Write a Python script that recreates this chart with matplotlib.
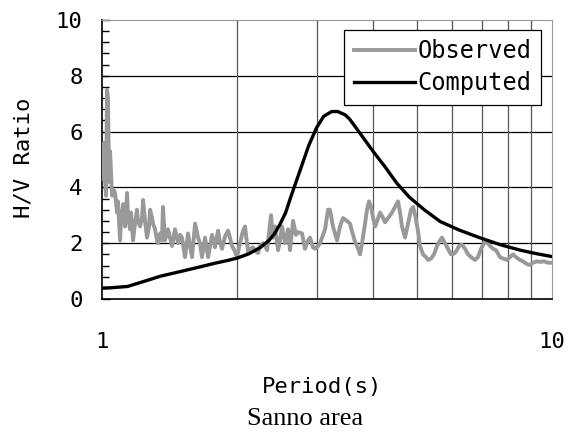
import matplotlib
matplotlib.use('Agg')
import matplotlib.pyplot as plt
from matplotlib.ticker import FixedLocator, NullFormatter

# observed H/V spectrum
obs_period = [1.000, 1.005, 1.010, 1.016, 1.021, 1.026, 1.031, 1.037, 1.042, 1.047,
              1.053, 1.063, 1.069, 1.080, 1.085, 1.097, 1.102, 1.114, 1.125, 1.137,
              1.142, 1.154, 1.160, 1.172, 1.184, 1.196, 1.202, 1.215, 1.227, 1.234,
              1.246, 1.259, 1.272, 1.279, 1.292, 1.298, 1.312, 1.325, 1.332, 1.346,
              1.359, 1.366, 1.380, 1.402, 1.416, 1.431, 1.453, 1.476, 1.491, 1.506,
              1.529, 1.553, 1.569, 1.585, 1.610, 1.635, 1.651, 1.668, 1.694, 1.721,
              1.738, 1.756, 1.783, 1.811, 1.830, 1.848, 1.877, 1.906, 1.925, 1.945,
              1.975, 1.995, 2.026, 2.058, 2.079, 2.100, 2.111, 2.133, 2.166, 2.200,
              2.222, 2.245, 2.280, 2.304, 2.327, 2.363, 2.375, 2.399, 2.424, 2.462,
              2.487, 2.512, 2.551, 2.591, 2.617, 2.658, 2.698, 2.726, 2.783, 2.826,
              2.870, 2.899, 2.944, 2.974, 3.021, 3.052, 3.099, 3.131, 3.178, 3.210,
              3.260, 3.329, 3.380, 3.432, 3.503, 3.557, 3.612, 3.650, 3.707, 3.745,
              3.783, 3.842, 3.880, 3.921, 3.962, 4.004, 4.046, 4.109, 4.150, 4.214,
              4.256, 4.322, 4.411, 4.479, 4.549, 4.595, 4.642, 4.714, 4.786, 4.861,
              4.914, 4.965, 5.042, 5.090, 5.168, 5.248, 5.302, 5.384, 5.467, 5.552,
              5.638, 5.695, 5.782, 5.872, 5.963, 6.026, 6.119, 6.214, 6.310, 6.408,
              6.507, 6.607, 6.744, 6.848, 6.954, 7.062, 7.171, 7.282, 7.395, 7.509,
              7.664, 7.783, 7.943, 8.066, 8.190, 8.318, 8.490, 8.621, 8.799, 8.935,
              9.073, 9.261, 9.405, 9.599, 9.797, 10.000]
obs_ratio = [5.0, 4.3, 5.6, 4.3, 3.7, 7.5, 7.2, 4.2, 5.3, 4.6,
             3.7, 3.9, 3.8, 3.1, 3.5, 2.1, 2.8, 3.4, 2.6, 3.8,
             3.0, 2.5, 3.1, 2.1, 2.7, 3.2, 2.8, 2.6, 2.9, 3.55,
             2.8, 2.2, 2.6, 3.2, 2.9, 2.7, 2.5, 2.1, 2.0, 2.35,
             2.1, 3.3, 2.1, 2.5, 2.2, 1.9, 2.5, 2.0, 2.3, 2.2,
             1.5, 2.35, 1.9, 1.5, 2.7, 2.2, 2.0, 1.5, 2.2, 1.5,
             1.9, 2.3, 1.85, 2.45, 2.0, 1.8, 2.25, 2.45, 2.2, 1.9,
             1.7, 1.5, 2.0, 2.45, 2.6, 2.0, 1.7, 1.8, 1.85, 1.7,
             1.65, 1.9, 2.0, 1.9, 1.75, 2.7, 3.0, 2.2, 2.6, 1.75,
             2.1, 2.6, 2.0, 2.5, 1.75, 2.8, 2.3, 2.4, 2.35, 1.8,
             2.1, 2.2, 1.85, 1.8, 1.9, 2.0, 2.3, 2.5, 3.2, 3.2,
             2.6, 2.1, 2.6, 2.9, 2.8, 2.7, 2.3, 2.05, 1.8, 1.6,
             2.0, 2.7, 3.2, 3.5, 3.3, 2.9, 2.6, 2.9, 3.1, 2.9,
             2.75, 2.9, 3.1, 3.3, 3.5, 3.1, 2.6, 2.2, 2.7, 3.2,
             3.3, 3.0, 2.4, 1.9, 1.6, 1.5, 1.4, 1.45, 1.6, 1.9,
             2.1, 2.2, 2.0, 1.8, 1.6, 1.6, 1.7, 1.9, 1.95, 1.8,
             1.6, 1.5, 1.4, 1.5, 1.8, 2.0, 2.05, 1.9, 1.8, 1.75,
             1.5, 1.45, 1.4, 1.5, 1.6, 1.5, 1.4, 1.35, 1.25, 1.22,
             1.3, 1.35, 1.33, 1.35, 1.3, 1.3]

# computed H/V curve
calc_period = [1.00, 1.04, 1.08, 1.14, 1.25, 1.35, 1.49, 1.65, 1.78, 1.90,
               2.00, 2.12, 2.25, 2.35, 2.42, 2.49, 2.56, 2.62, 2.72, 2.88,
               3.00, 3.11, 3.24, 3.34, 3.47, 3.55, 3.74, 4.00, 4.25, 4.52,
               4.82, 5.20, 5.64, 6.20, 6.90, 7.66, 8.50, 9.20, 10.00]
calc_ratio = [0.39, 0.40, 0.42, 0.45, 0.65, 0.82, 0.98, 1.15, 1.28, 1.38,
              1.47, 1.62, 1.85, 2.10, 2.35, 2.70, 3.10, 3.60, 4.35, 5.50,
              6.15, 6.55, 6.72, 6.72, 6.60, 6.45, 5.95, 5.30, 4.75, 4.15,
              3.65, 3.20, 2.78, 2.48, 2.20, 1.95, 1.75, 1.63, 1.52]

mono = 'DejaVu Sans Mono'

fig = plt.figure(figsize=(5.71, 4.37), dpi=100)
ax = fig.add_axes([102 / 571, 1 - 299 / 437, 450 / 571, 279 / 437])

ax.plot(obs_period, obs_ratio, color='#999999', lw=2.8, label='Observed', zorder=3)
ax.plot(calc_period, calc_ratio, color='black', lw=2.4, label='Computed', zorder=4)

ax.set_xscale('log')
ax.set_xlim(1, 10)
ax.set_ylim(0, 10)

ax.xaxis.set_major_locator(FixedLocator([1, 10]))
ax.xaxis.set_minor_locator(FixedLocator([2, 3, 4, 5, 6, 7, 8, 9]))
ax.xaxis.set_minor_formatter(NullFormatter())
ax.set_xticklabels(['1', '10'], family=mono, fontsize=16)
ax.tick_params(axis='x', which='both', length=0, pad=24)

ax.yaxis.set_major_locator(FixedLocator([0, 2, 4, 6, 8, 10]))
ax.yaxis.set_minor_locator(FixedLocator([0.4, 0.8, 1.2, 1.6, 2.4, 2.8, 3.2, 3.6,
                                         4.4, 4.8, 5.2, 5.6, 6.4, 6.8, 7.2, 7.6,
                                         8.4, 8.8, 9.2, 9.6]))
ax.set_yticklabels(['0', '2', '4', '6', '8', '10'], family=mono, fontsize=16)
ax.tick_params(axis='y', which='major', direction='in', length=6, width=1, pad=14)
ax.tick_params(axis='y', which='minor', direction='in', length=5, width=1)

# grid: black horizontals, grey verticals
for v in [2, 4, 6, 8]:
    ax.axhline(v, color='black', lw=0.9, zorder=1)
for v in [2, 3, 4, 5, 6, 7, 8, 9]:
    ax.axvline(v, color='#555555', lw=0.9, zorder=1)

ax.spines['left'].set_color('black')
ax.spines['bottom'].set_color('black')
ax.spines['left'].set_linewidth(1.2)
ax.spines['bottom'].set_linewidth(1.2)
ax.spines['top'].set_color('#999999')
ax.spines['right'].set_color('#999999')

ax.set_ylabel('H/V Ratio', family=mono, fontsize=16)
ax.yaxis.set_label_coords(-0.152, 0.505)
ax.set_xlabel('Period(s)', family=mono, fontsize=16)
ax.xaxis.set_label_coords(0.489, -0.28)

leg = ax.legend(loc='upper right', bbox_to_anchor=(0.975, 0.965),
                prop={'family': mono, 'size': 17}, frameon=True, fancybox=False,
                handlelength=2.6, handletextpad=0.1, borderpad=0.4,
                labelspacing=0.35, borderaxespad=0)
leg.get_frame().set_edgecolor('black')
leg.get_frame().set_linewidth(0.9)
leg.get_frame().set_alpha(1)

fig.text(305 / 571, 1 - 419 / 437, 'Sanno area', family='Liberation Serif',
         fontsize=19, ha='center', va='center')

plt.savefig('out.png', dpi=100)
